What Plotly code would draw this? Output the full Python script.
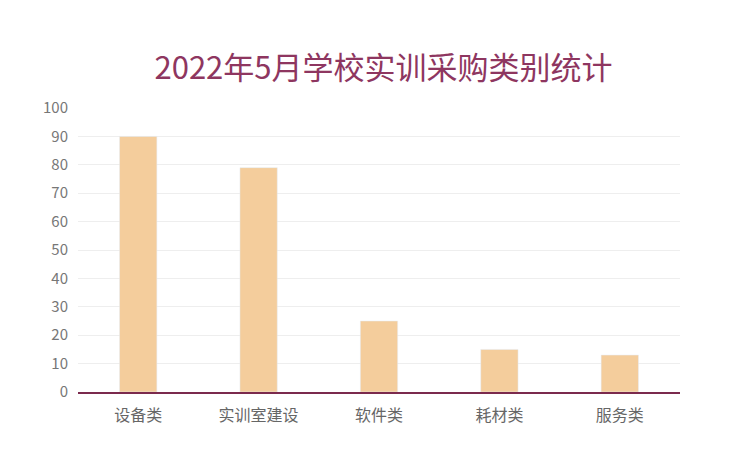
import plotly.graph_objects as go

categories = ['设备类', '实训室建设', '软件类', '耗材类', '服务类']
values = [90, 79, 25, 15, 13]

fig = go.Figure(go.Bar(
    x=categories,
    y=values,
    marker=dict(color='#F4CD9C'),
    width=0.31,
))

fig.update_layout(
    width=751, height=451,
    paper_bgcolor='white', plot_bgcolor='white',
    font=dict(family='Noto Sans CJK SC', color='#666666', size=15),
    title=dict(text='2022年5月学校实训采购类别统计', x=0.5, xanchor='center', y=0.89,
               font=dict(size=31, color='#8E3660')),
    margin=dict(l=70, r=79, t=100, b=67),
    showlegend=False,
    xaxis=dict(showline=True, linecolor='#7B2A4D', linewidth=1.5,
               ticks='outside', ticklen=8, tickcolor='rgba(0,0,0,0)',
               tickfont=dict(size=16, color='#666666')),
    yaxis=dict(range=[0, 100], dtick=10, showgrid=True, gridcolor='#EEEEEE',
               zeroline=False, ticks='outside', ticklen=6, tickcolor='rgba(0,0,0,0)',
               tickfont=dict(size=15, color='#777777')),
)

fig.write_html('out.html')
